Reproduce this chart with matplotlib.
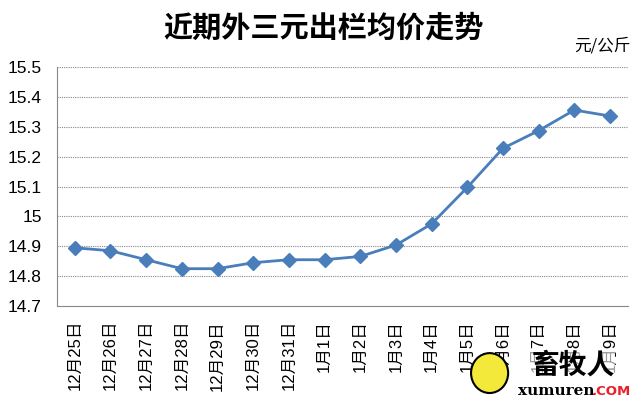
import matplotlib
matplotlib.use("Agg")
import matplotlib.pyplot as plt
from matplotlib.patches import Ellipse

plt.rcParams['font.family'] = ['Liberation Sans', 'Noto Sans CJK SC', 'DejaVu Sans']

dates = ["12月25日", "12月26日", "12月27日", "12月28日", "12月29日", "12月30日",
         "12月31日", "1月1日", "1月2日", "1月3日", "1月4日", "1月5日",
         "1月6日", "1月7日", "1月8日", "1月9日"]
prices = [14.895, 14.885, 14.855, 14.825, 14.825, 14.845, 14.855, 14.855,
          14.866, 14.904, 14.975, 15.097, 15.228, 15.287, 15.356, 15.336]
yticks = [14.7, 14.8, 14.9, 15.0, 15.1, 15.2, 15.3, 15.4, 15.5]
ytick_labels = ["14.7", "14.8", "14.9", "15", "15.1", "15.2", "15.3", "15.4", "15.5"]

fig = plt.figure(figsize=(6.4, 3.99), dpi=100)
ax = fig.add_axes([0.089, 0.233, 0.892, 0.599])

x = list(range(len(dates)))
ax.plot(x, prices, color="#4A7EBB", linewidth=2, marker="D", markersize=7,
        markerfacecolor="#4A7EBB", markeredgecolor="#4A7EBB", zorder=3)

ax.set_xlim(-0.5, len(dates) - 0.5)
ax.set_ylim(14.7, 15.5)
ax.set_yticks(yticks)
ax.set_yticklabels(ytick_labels, fontsize=12.5)
ax.set_xticks(x)
ax.set_xticklabels(dates, rotation=90, fontsize=12)
ax.tick_params(axis="x", length=0, pad=10)
ax.tick_params(axis="y", length=0, pad=11)

ax.grid(axis="y", linestyle=(0, (1, 1)), color="#888888", linewidth=0.8)
ax.set_axisbelow(True)
for side in ("top", "right"):
    ax.spines[side].set_visible(False)
ax.spines["left"].set_color("#888888")
ax.spines["bottom"].set_color("#888888")

fig.text(0.505, 0.932, "近期外三元出栏均价走势", ha="center", va="center",
         fontsize=21, fontweight="bold", family=["Noto Sans CJK SC"])
fig.text(0.985, 0.885, "元/公斤", ha="right", va="center", fontsize=12,
         family=["Noto Sans CJK SC", "DejaVu Sans"])

# watermark logo
fig.patches.append(Ellipse((0.765, 0.065), 0.058, 0.1, transform=fig.transFigure,
                           facecolor="#F2E93A", edgecolor="black", linewidth=1.5,
                           zorder=5))
fig.text(0.895, 0.085, "畜牧人", ha="center", va="center", fontsize=20,
         fontweight="bold", family=["Noto Sans CJK SC"], zorder=6,
         bbox=dict(facecolor="white", edgecolor="none", pad=0.5, alpha=0.6))
fig.text(0.81, 0.02, "xumuren", ha="left", va="center", fontsize=11,
         fontweight="bold", family=["DejaVu Serif"], zorder=6)
fig.text(0.925, 0.02, ".COM", ha="left", va="center", fontsize=9.5,
         fontweight="bold", color="#E8202A", family=["DejaVu Sans"], zorder=6)

fig.savefig("out.png", dpi=100)
